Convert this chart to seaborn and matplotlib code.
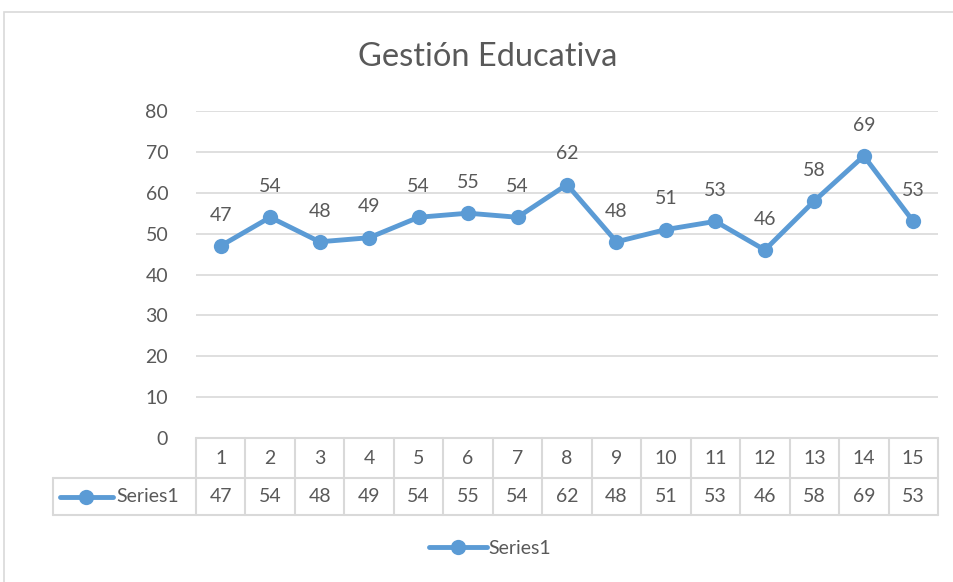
import matplotlib
matplotlib.use("Agg")
import matplotlib.pyplot as plt
import matplotlib.transforms as mtransforms
from matplotlib.lines import Line2D
from matplotlib.patches import Rectangle
import seaborn as sns
import pandas as pd

categories = list(range(1, 15 + 1))
values = [47, 54, 48, 49, 54, 55, 54, 62, 48, 51, 53, 46, 58, 69, 53]
series_name = "Series1"
title = "Gestión Educativa"
yticks = [0, 10, 20, 30, 40, 50, 60, 70, 80]

sns.set_theme(style="white")
plt.rcParams['font.family'] = ['Lato', 'DejaVu Sans']

W, H = 954, 582
TXT = "#595959"
GRID = "#D9D9D9"
BLUE = "#5B9BD5"
FS = 14
LW = 3.5
MS = 11

fig = plt.figure(figsize=(W / 100, H / 100), dpi=100)
fig.patch.set_facecolor("white")

def fx(px):
    return px / W

def fy(py):
    return 1 - py / H

L, R, T, B = 196, 938, 111, 438
ax = fig.add_axes([fx(L), fy(B), fx(R) - fx(L), fy(T) - fy(B)])
ax.set_facecolor("white")

df = pd.DataFrame({"cat": categories, "val": values})
sns.lineplot(data=df, x="cat", y="val", ax=ax, color=BLUE, linewidth=LW,
             marker="o", markersize=MS, markeredgecolor=BLUE,
             markeredgewidth=0, clip_on=False, zorder=3)

ax.set_xlim(0.5, len(categories) + 0.5)
ax.set_ylim(0, 80)
ax.set_yticks(yticks)
ax.set_yticklabels([str(t) for t in yticks], color=TXT, fontsize=FS)
ax.tick_params(axis="y", length=0, pad=20)
ax.set_xticks([])
ax.set_xlabel("")
ax.set_ylabel("")
for s in ax.spines.values():
    s.set_visible(False)
for t in yticks[1:]:
    ax.axhline(t, color=GRID, linewidth=1.2, zorder=1)

for c, v in zip(categories, values):
    ax.annotate(str(v), (c, v), xytext=(0, 16), textcoords="offset points",
                ha="center", va="bottom", fontsize=FS, color=TXT)

# Title
fig.text(fx(488), fy(57), title, ha="center", va="center", fontsize=23.5, color=TXT)

# Data table
blend = mtransforms.blended_transform_factory(ax.transData, ax.transAxes)
ah = B - T
y1 = -(478 - B) / ah
y2 = -(515 - B) / ah
unit = (R - L) / len(categories)
xleft = 0.5 + (53 - L) / unit
n = len(categories)
tl = dict(color=GRID, linewidth=1.5, clip_on=False, transform=blend, zorder=2)
ax.add_line(Line2D([0.5, n + 0.5], [0, 0], **tl))
ax.add_line(Line2D([xleft, n + 0.5], [y1, y1], **tl))
ax.add_line(Line2D([xleft, n + 0.5], [y2, y2], **tl))
ax.add_line(Line2D([xleft, xleft], [y1, y2], **tl))
for i in range(n + 1):
    ax.add_line(Line2D([i + 0.5, i + 0.5], [0, y2], **tl))
for c, v in zip(categories, values):
    ax.text(c, y1 / 2, str(c), transform=blend, ha="center", va="center",
            fontsize=FS, color=TXT)
    ax.text(c, (y1 + y2) / 2, str(v), transform=blend, ha="center", va="center",
            fontsize=FS, color=TXT)

# legend key inside table
ykey = (y1 + y2) / 2
xk0 = 0.5 + (60 - L) / unit
xk1 = 0.5 + (113 - L) / unit
ax.add_line(Line2D([xk0, xk1], [ykey, ykey], color=BLUE, linewidth=LW,
                   clip_on=False, transform=blend, solid_capstyle="round"))
ax.add_line(Line2D([(xk0 + xk1) / 2], [ykey], color=BLUE, marker="o",
                   markersize=MS, markeredgewidth=0, linestyle="none",
                   clip_on=False, transform=blend))
ax.text(0.5 + (116 - L) / unit, ykey, series_name, transform=blend,
        ha="left", va="center", fontsize=FS, color=TXT)

# Bottom legend
handle = Line2D([], [], color=BLUE, linewidth=LW, marker="o", markersize=MS,
                markeredgewidth=0, solid_capstyle="round")
fig.legend([handle], [series_name], loc="center", bbox_to_anchor=(fx(490), fy(548)),
           frameon=False, fontsize=FS, labelcolor=TXT, handlelength=3.0,
           handletextpad=0.1)

# Outer chart border
fig.add_artist(Rectangle((fx(4), fy(600)), fx(960) - fx(4), fy(12) - fy(600),
                         transform=fig.transFigure, fill=False,
                         edgecolor=GRID, linewidth=1.2))

fig.savefig("out.png", dpi=100)
